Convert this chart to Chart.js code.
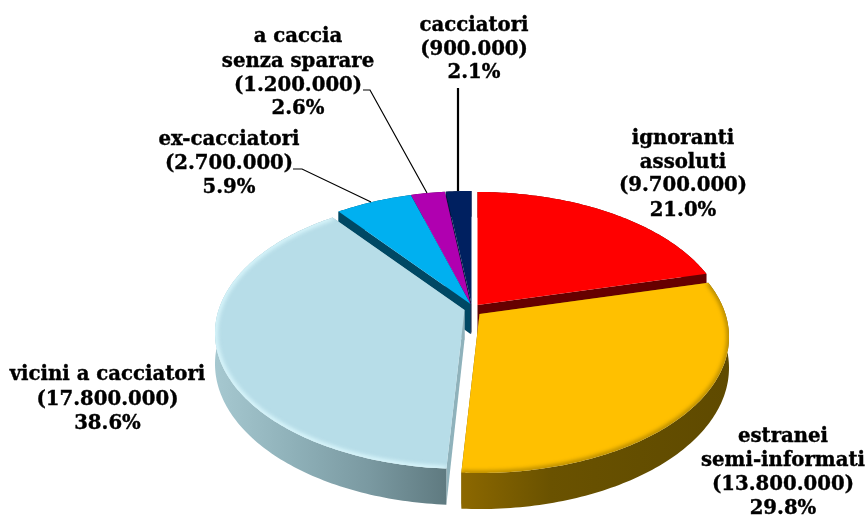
<!DOCTYPE html>
<html><head><meta charset="utf-8">
<style>html,body{margin:0;padding:0;background:#fff}canvas{display:block}</style>
<script src="https://cdn.jsdelivr.net/npm/chart.js@4"></script>
</head><body><canvas id="c" width="867" height="516"></canvas>
<script>
const categories = ["ignoranti assoluti","estranei semi-informati","vicini a cacciatori","ex-cacciatori","a caccia senza sparare","cacciatori"];
const counts = [9700000,13800000,17800000,2700000,1200000,900000];
const countLabels = ["(9.700.000)","(13.800.000)","(17.800.000)","(2.700.000)","(1.200.000)","(900.000)"];
const percentLabels = ["21.0%","29.8%","38.6%","5.9%","2.6%","2.1%"];
const nameLines = [["ignoranti","assoluti"],["estranei","semi-informati"],["vicini a cacciatori"],["ex-cacciatori"],["a caccia","senza sparare"],["cacciatori"]];
const topColors = ["#ff0000","#ffc000","#b7dde8","#00b0f0","#b000b0","#002060"];

// styling of the perspective projection
const cutColors = ["#660000","#7a5c00","#8fb2bb","#004864","#4a0050","#001238"];
const wallStops = [
  ["#660000","#660000"],
  ["#8c6800","#6a5200","#644e00","#5f4a00"],
  ["#a6c8d0","#8fb1b9","#7a99a1","#5f7a80"],
  ["#004864","#004864"],["#4a0050","#4a0050"],["#001238","#001238"]
];
const apexShift = [[7,-1],[9,8],[-6,4],[0,-2],[0,-2],[1,-2]];
const drawOrder = [5,4,3,0,2,1];
const labelX = [683,783,107.5,229,298,474];
const labelY = [[139,163,186,211],[437,461,485,509],[375,400,424],[140,164,188],[37,62,86,109],[26,50,73]];
const K = 0.169, SX = 1.171, SY = 0.629, DEPTH = 30;

function project(el, i, theta, r){
  const R = el.outerRadius;
  const u = Math.cos(theta)*r, v = Math.sin(theta)*r;
  const w = 1/(1-K*v);
  return {x: el.x+apexShift[i][0]+u*R*SX*w, y: el.y+apexShift[i][1]+v*R*SY*w, d: DEPTH*w};
}
function arcPoints(el,i){
  const pts=[], n=Math.max(8,Math.ceil((el.endAngle-el.startAngle)*60));
  for(let k=0;k<=n;k++) pts.push(project(el,i,el.startAngle+(el.endAngle-el.startAngle)*k/n,1));
  return pts;
}
function drawSlice(ctx,el,i){
  const pts=arcPoints(el,i), apex=project(el,i,0,0);
  // cut faces
  ctx.fillStyle=cutColors[i];
  [pts[0],pts[pts.length-1]].forEach(p=>{
    ctx.beginPath();ctx.moveTo(apex.x,apex.y);ctx.lineTo(p.x,p.y);ctx.lineTo(p.x,p.y+p.d);ctx.lineTo(apex.x,apex.y+apex.d);ctx.closePath();ctx.fill();
  });
  // outer face
  const xs=pts.map(p=>p.x), x0=Math.min(...xs), x1=Math.max(...xs);
  const g=ctx.createLinearGradient(x0,0,x1,0), st=wallStops[i];
  st.forEach((c,k)=>g.addColorStop(k/(st.length-1),c));
  ctx.fillStyle=g;
  ctx.beginPath();
  pts.forEach((p,k)=>k?ctx.lineTo(p.x,p.y):ctx.moveTo(p.x,p.y));
  for(let k=pts.length-1;k>=0;k--) ctx.lineTo(pts[k].x,pts[k].y+pts[k].d);
  ctx.closePath();ctx.fill();
  // top face
  const topPath=new Path2D();
  topPath.moveTo(apex.x,apex.y);
  pts.forEach(p=>topPath.lineTo(p.x,p.y));
  topPath.closePath();
  ctx.fillStyle=el.options.backgroundColor;
  ctx.fill(topPath);
  // bevel along the rim
  if(i===1||i===2){
    ctx.save();ctx.clip(topPath);
    ctx.filter='blur(2px)';
    ctx.strokeStyle=i===2?'#dcf8fd':'rgba(110,85,0,0.6)';
    ctx.lineWidth=i===2?5:4;
    ctx.beginPath();
    pts.forEach((p,k)=>k?ctx.lineTo(p.x,p.y):ctx.moveTo(p.x,p.y));
    ctx.stroke();
    ctx.restore();
  }
}
const pie3d = {
  id:'pie3d',
  beforeDatasetDraw(chart,args){
    const ctx=chart.ctx, els=args.meta.data;
    ctx.save();
    drawOrder.forEach(i=>drawSlice(ctx,els[i],i));
    ctx.restore();
    return false;
  },
  afterDraw(chart){
    const ctx=chart.ctx;
    ctx.save();
    ctx.strokeStyle='#000';
    ctx.lineWidth=2.2;
    ctx.beginPath();ctx.moveTo(458,88);ctx.lineTo(458,191);ctx.stroke();
    ctx.lineWidth=1.2;
    ctx.beginPath();ctx.moveTo(363,90);ctx.lineTo(370,90);ctx.lineTo(427,193);ctx.stroke();
    ctx.beginPath();ctx.moveTo(293,169);ctx.lineTo(302,169);ctx.lineTo(371,202);ctx.stroke();
    ctx.fillStyle='#000';
    ctx.strokeStyle='#000';
    ctx.lineWidth=0.4;
    ctx.font='bold 19.7px "DejaVu Serif"';
    ctx.textAlign='center';ctx.textBaseline='middle';
    categories.forEach((_,i)=>{
      const lines=[...nameLines[i],countLabels[i],percentLabels[i]];
      lines.forEach((t,k)=>{ctx.fillText(t,labelX[i],labelY[i][k]);ctx.strokeText(t,labelX[i],labelY[i][k]);});
    });
    ctx.restore();
  }
};
new Chart(document.getElementById('c'),{
  type:'pie',
  data:{labels:categories,datasets:[{data:counts,backgroundColor:topColors,borderWidth:0}]},
  options:{
    responsive:false,animation:false,
    layout:{padding:{left:74,top:96,right:0,bottom:0}},
    events:[],
    plugins:{legend:{display:false},tooltip:{enabled:false}}
  },
  plugins:[pie3d]
});
</script></body></html>
